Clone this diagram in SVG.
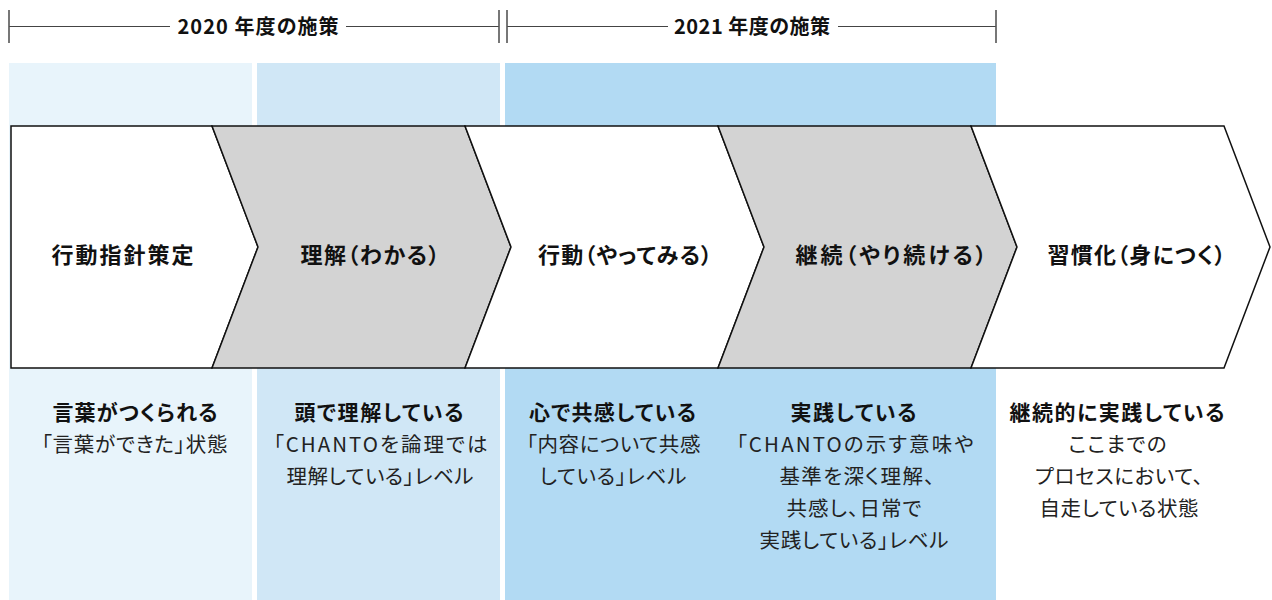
<svg xmlns="http://www.w3.org/2000/svg" width="1272" height="600" viewBox="0 0 1272 600">
<style>
  text { font-family: "Noto Sans CJK JP", "Noto Sans", sans-serif; text-anchor: middle; font-feature-settings: "palt"; }
  .hdr { font-size: 20px; font-weight: 700; fill: #111; }
  .lbl { font-size: 22px; font-weight: 700; fill: #111; }
  .ttl { font-size: 21px; font-weight: 700; fill: #111; }
  .txt { font-size: 20.5px; font-weight: 400; fill: #222; }
  .hline { stroke: #444; stroke-width: 1; fill: none; }
  .tick { stroke: #555; stroke-width: 1.6; fill: none; }
  .shape { stroke: #111; stroke-width: 1.5; stroke-linejoin: miter; }
  .white { fill: #ffffff; }
  .gray { fill: #d3d3d3; }
</style>

<g id="panels">
  <rect x="9" y="63" width="243" height="537" fill="#e8f4fb"/>
  <rect x="257" y="63" width="243" height="537" fill="#d0e7f6"/>
  <rect x="505" y="63" width="491" height="537" fill="#b2daf3"/>
</g>

<g id="header-2020">
  <line class="hline" x1="9" y1="26.5" x2="170" y2="26.5"/>
  <line class="hline" x1="346" y1="26.5" x2="499" y2="26.5"/>
  <line class="tick" x1="9" y1="10" x2="9" y2="43"/>
  <line class="tick" x1="499" y1="10" x2="499" y2="43"/>
  <text class="hdr" x="258" y="34" textLength="161" lengthAdjust="spacing">2020 年度の施策</text>
</g>

<g id="header-2021">
  <line class="hline" x1="507" y1="26.5" x2="668" y2="26.5"/>
  <line class="hline" x1="838" y1="26.5" x2="996" y2="26.5"/>
  <line class="tick" x1="507" y1="10" x2="507" y2="43"/>
  <line class="tick" x1="996" y1="10" x2="996" y2="43"/>
  <text class="hdr" x="752" y="34" textLength="156" lengthAdjust="spacing">2021 年度の施策</text>
</g>

<g id="step1">
  <polygon class="shape white" points="11,126 212,126 258,247 212,368 11,368"/>
  <text class="lbl" x="122.5" y="263" textLength="142" lengthAdjust="spacing">行動指針策定</text>
</g>
<g id="step2">
  <polygon class="shape gray" points="212,126 465,126 511,247 465,368 212,368 258,247"/>
  <text class="lbl" x="370" y="263" textLength="139" lengthAdjust="spacing">理解（わかる）</text>
</g>
<g id="step3">
  <polygon class="shape white" points="465,126 718,126 764,247 718,368 465,368 511,247"/>
  <text class="lbl" x="625" y="263" textLength="174" lengthAdjust="spacing">行動（やってみる）</text>
</g>
<g id="step4">
  <polygon class="shape gray" points="718,126 971,126 1017,247 971,368 718,368 764,247"/>
  <text class="lbl" x="891" y="263" textLength="191" lengthAdjust="spacing">継続（やり続ける）</text>
</g>
<g id="step5">
  <polygon class="shape white" points="971,126 1224,126 1270,247 1224,368 971,368 1017,247"/>
  <text class="lbl" x="1136.5" y="263" textLength="178" lengthAdjust="spacing">習慣化（身につく）</text>
</g>

<g id="desc1">
  <text class="ttl" x="135" y="420" textLength="165" lengthAdjust="spacing">言葉がつくられる</text>
  <text class="txt" x="134.5" y="452" textLength="186" lengthAdjust="spacing">「言葉ができた」状態</text>
</g>
<g id="desc2">
  <text class="ttl" x="379" y="420" textLength="169" lengthAdjust="spacing">頭で理解している</text>
  <text class="txt" x="380.5" y="452" textLength="214" lengthAdjust="spacing">「CHANTOを論理では</text>
  <text class="txt" x="380" y="484" textLength="187" lengthAdjust="spacing">理解している」レベル</text>
</g>
<g id="desc3">
  <text class="ttl" x="612.5" y="420" textLength="167" lengthAdjust="spacing">心で共感している</text>
  <text class="txt" x="613.5" y="452" textLength="174" lengthAdjust="spacing">「内容について共感</text>
  <text class="txt" x="613" y="484" textLength="147" lengthAdjust="spacing">している」レベル</text>
</g>
<g id="desc4">
  <text class="ttl" x="853.5" y="420" textLength="126" lengthAdjust="spacing">実践している</text>
  <text class="txt" x="855" y="452" textLength="237" lengthAdjust="spacing">「CHANTOの示す意味や</text>
  <text class="txt" x="857" y="484" textLength="155" lengthAdjust="spacing">基準を深く理解、</text>
  <text class="txt" x="854" y="516" textLength="135" lengthAdjust="spacing">共感し、日常で</text>
  <text class="txt" x="854" y="548" textLength="189" lengthAdjust="spacing">実践している」レベル</text>
</g>
<g id="desc5">
  <text class="ttl" x="1117" y="420" textLength="215" lengthAdjust="spacing">継続的に実践している</text>
  <text class="txt" x="1117.5" y="452" textLength="98" lengthAdjust="spacing">ここまでの</text>
  <text class="txt" x="1119" y="484" textLength="168" lengthAdjust="spacing">プロセスにおいて、</text>
  <text class="txt" x="1119" y="516" textLength="159" lengthAdjust="spacing">自走している状態</text>
</g>
</svg>
